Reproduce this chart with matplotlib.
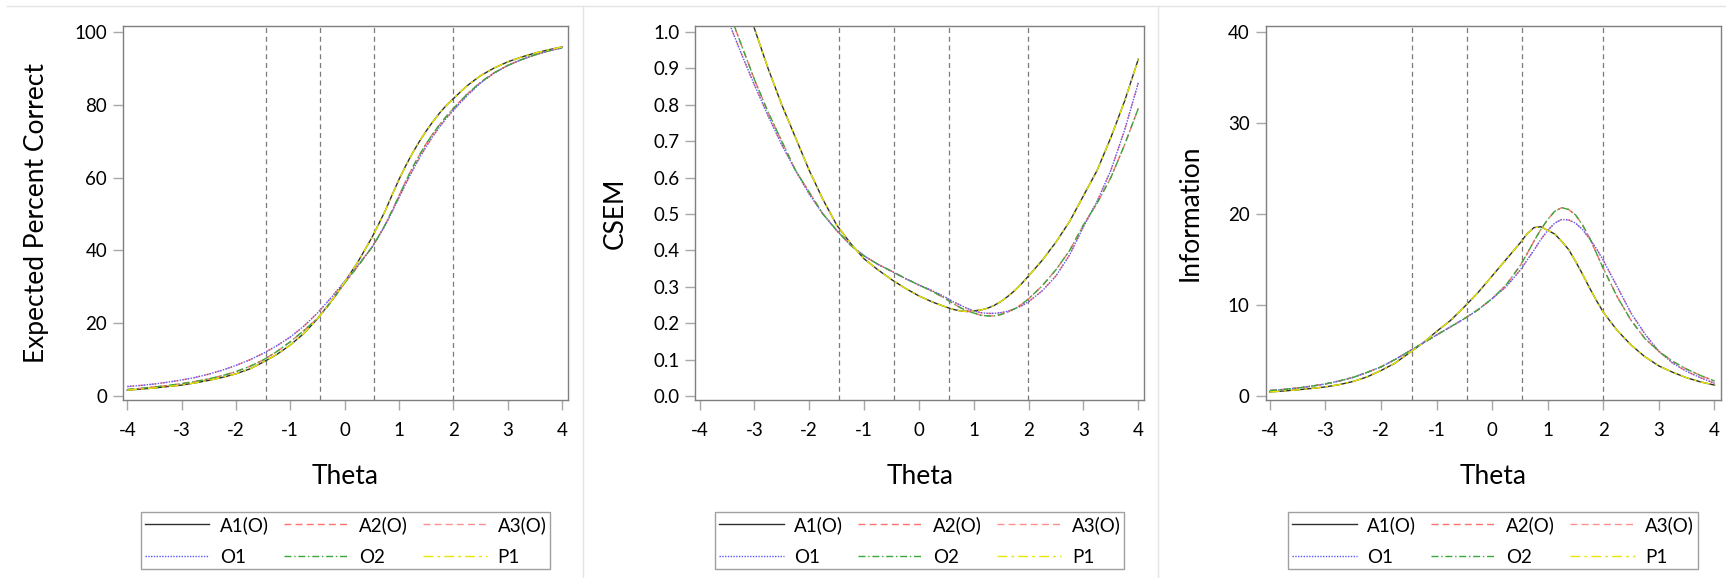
import matplotlib
matplotlib.use("Agg")
import matplotlib.pyplot as plt
from matplotlib.lines import Line2D

plt.rcParams['font.family'] = ['Lato', 'DejaVu Sans']
plt.rcParams['axes.unicode_minus'] = False

# theta grid the curves were read at (finer around the peaks)
theta = [-4.0, -3.75, -3.5, -3.25, -3.0, -2.75, -2.5, -2.25, -2.0, -1.75, -1.5,
         -1.25, -1.0, -0.75, -0.5, -0.25, 0.0, 0.25, 0.5, 0.625, 0.75, 0.875,
         1.0, 1.125, 1.25, 1.375, 1.5, 1.625, 1.75, 1.875, 2.0, 2.25, 2.5, 2.75,
         3.0, 3.25, 3.5, 3.75, 4.0]

# cut scores (vertical dashed lines)
cuts = [-1.45, -0.45, 0.54, 1.99]

# expected percent correct, three distinct curves (pairs overlap)
epc_1 = [1.6, 1.9, 2.2, 2.6, 3.0, 3.6, 4.3, 5.1, 6.1, 7.4, 9.3, 11.4, 14.0, 17.2,
         21.2, 26.0, 31.3, 37.0, 43.5, 47.2, 51.0, 55.3, 59.5, 63.3, 66.8, 69.9,
         72.8, 75.4, 77.8, 79.9, 81.7, 85.2, 88.0, 90.1, 91.8, 93.1, 94.2, 95.1,
         95.9]
epc_2 = [1.8, 2.1, 2.5, 2.9, 3.4, 4.0, 4.7, 5.6, 6.7, 8.1, 9.9, 12.2, 14.9, 18.0,
         21.3, 25.8, 31.0, 35.8, 40.8, 43.9, 47.2, 51.0, 55.0, 59.0, 62.8, 66.2,
         69.3, 72.1, 74.6, 76.9, 79.0, 82.9, 86.2, 88.8, 90.8, 92.4, 93.7, 94.8,
         95.7]
epc_3 = [2.6, 2.9, 3.3, 3.8, 4.4, 5.1, 6.0, 7.1, 8.4, 9.9, 11.7, 13.8, 16.2, 19.2,
         22.8, 27.0, 31.5, 36.0, 40.8, 43.8, 47.0, 50.7, 54.5, 58.3, 62.0, 65.4,
         68.5, 71.4, 74.0, 76.4, 78.5, 82.5, 86.0, 88.7, 90.8, 92.4, 93.7, 94.8,
         95.6]

# CSEM
csem_1 = [1.49, 1.35, 1.22, 1.11, 1.01, 0.90, 0.80, 0.71, 0.62, 0.54, 0.47, 0.42,
          0.377, 0.347, 0.32, 0.296, 0.275, 0.258, 0.244, 0.238, 0.234, 0.232,
          0.234, 0.236, 0.241, 0.249, 0.26, 0.274, 0.29, 0.309, 0.33, 0.373,
          0.423, 0.48, 0.55, 0.62, 0.71, 0.81, 0.925]
csem_2 = [1.29, 1.18, 1.07, 0.97, 0.87, 0.78, 0.70, 0.62, 0.56, 0.50, 0.455, 0.415,
          0.385, 0.362, 0.343, 0.323, 0.305, 0.287, 0.266, 0.254, 0.243, 0.234,
          0.228, 0.222, 0.22, 0.22, 0.224, 0.231, 0.24, 0.252, 0.267, 0.303,
          0.347, 0.40, 0.47, 0.53, 0.60, 0.69, 0.79]
csem_3 = [1.27, 1.16, 1.04, 0.945, 0.855, 0.77, 0.69, 0.62, 0.555, 0.50, 0.455,
          0.415, 0.385, 0.362, 0.343, 0.323, 0.305, 0.289, 0.27, 0.259, 0.25,
          0.241, 0.234, 0.229, 0.227, 0.227, 0.229, 0.233, 0.24, 0.248, 0.259,
          0.289, 0.33, 0.388, 0.465, 0.535, 0.62, 0.73, 0.86]

# test information
info_1 = [0.45, 0.55, 0.68, 0.83, 1.0, 1.25, 1.6, 2.1, 2.8, 3.6, 4.7, 5.8, 7.1,
          8.3, 9.8, 11.4, 13.2, 15.0, 16.8, 17.8, 18.5, 18.6, 18.2, 17.8, 17.0,
          16.1, 14.8, 13.4, 11.9, 10.5, 9.2, 7.2, 5.6, 4.3, 3.3, 2.6, 2.0, 1.55,
          1.2]
info_2 = [0.6, 0.72, 0.88, 1.08, 1.33, 1.65, 2.05, 2.6, 3.2, 4.0, 4.9, 5.8, 6.7,
          7.6, 8.5, 9.5, 10.7, 12.2, 14.3, 15.6, 17.0, 18.3, 19.4, 20.3, 20.7,
          20.5, 19.9, 18.8, 17.4, 15.7, 14.0, 10.9, 8.3, 6.3, 4.9, 3.8, 2.95,
          2.25, 1.65]
info_3 = [0.6, 0.72, 0.88, 1.08, 1.33, 1.65, 2.05, 2.6, 3.2, 4.0, 4.9, 5.8, 6.7,
          7.6, 8.5, 9.5, 10.7, 12.0, 13.8, 14.9, 16.0, 17.2, 18.2, 19.0, 19.4,
          19.35, 19.0, 18.3, 17.3, 16.2, 14.9, 12.0, 9.1, 6.8, 4.9, 3.6, 2.7,
          2.0, 1.4]

labels = ["A1(O)", "A2(O)", "A3(O)", "O1", "O2", "P1"]
which = [0, 1, 2, 2, 1, 0]   # which curve each series follows
colors = ['#303030', '#ff7070', '#ff8f8f', '#5a5aff', '#3aa83a', '#e6e600']
dashes = ['-', (0, (5, 3)), (0, (5, 3)), (0, (1, 1)), (0, (5, 2, 1, 2)), (0, (7, 3, 2, 3))]

panels = [
    ([epc_1, epc_2, epc_3], "Expected Percent Correct", (-1.1, 101.65), [0, 20, 40, 60, 80, 100], "%d"),
    ([csem_1, csem_2, csem_3], "CSEM", (-0.011, 1.0165), [i / 10 for i in range(11)], "%.1f"),
    ([info_1, info_2, info_3], "Information", (-0.44, 40.66), [0, 10, 20, 30, 40], "%d"),
]

W, H = 1726, 578
fig = plt.figure(figsize=(W / 100, H / 100), dpi=100)

# axes boxes in pixels: left, right
boxes = [(123.2, 567.9), (695.4, 1144.2), (1265.7, 1720.5)]
top, bottom = 26, 400

for (curves, ylab, ylim, yticks, fmt), (l, r) in zip(panels, boxes):
    ax = fig.add_axes([l / W, (H - bottom) / H, (r - l) / W, (bottom - top) / H])
    for c in cuts:
        ax.axvline(c, color='#7a7a7a', lw=0.9, ls=(0, (4, 3)), zorder=1)
    handles = []
    for lab, k, col, ls in zip(labels, which, colors, dashes):
        h, = ax.plot(theta, curves[k], color=col, ls=ls, lw=1.0, label=lab, zorder=2)
        handles.append(h)
    ax.set_xlim(-4.075, 4.108)
    ax.set_ylim(*ylim)
    ax.set_xticks(range(-4, 5))
    ax.set_yticks(yticks)
    ax.set_yticklabels([fmt % v for v in yticks])
    for s in ax.spines.values():
        s.set_color('#7f7f7f')
        s.set_linewidth(1.0)
    ax.tick_params(direction='out', length=7.5, width=1, color='#a8a8a8',
                   labelsize=13.5, labelcolor='black')
    ax.tick_params(axis='x', pad=8)
    ax.tick_params(axis='y', pad=4)
    ax.set_xlabel("Theta", fontsize=19, labelpad=18)
    ax.set_ylabel(ylab, fontsize=19, labelpad=18)
    order = [0, 3, 1, 4, 2, 5]
    leg = ax.legend([handles[i] for i in order], [labels[i] for i in order],
                    ncol=3, loc='upper center', bbox_to_anchor=(0.5, -0.2995),
                    borderaxespad=0, fontsize=13.5, handlelength=3.45,
                    handletextpad=0.55, columnspacing=0.8, labelspacing=0.8,
                    borderpad=0.2, fancybox=False, framealpha=1)
    leg.get_frame().set_edgecolor('#a0a0a0')
    leg.get_frame().set_linewidth(1.0)

# light panel separators
sep = '#e4e4e4'
fig.add_artist(Line2D([0.004, 1], [1 - 6 / H, 1 - 6 / H], color=sep, lw=1))
for x in (583, 1158):
    fig.add_artist(Line2D([x / W, x / W], [0, 1 - 6 / H], color=sep, lw=1))

fig.savefig("out.png", dpi=100)
